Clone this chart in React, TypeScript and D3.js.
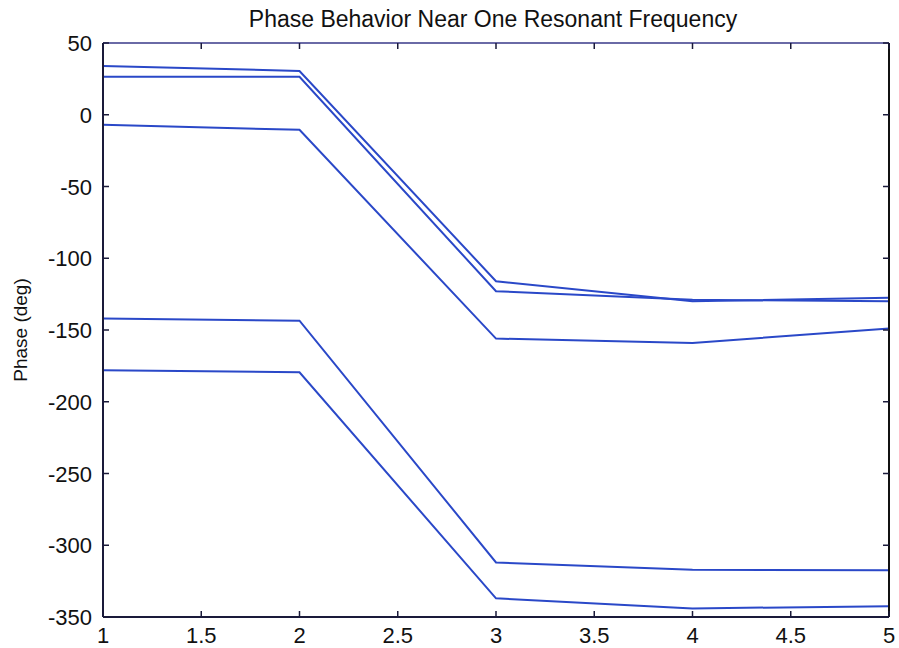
import React from 'react';
import * as d3 from 'd3';

const xs = [1, 2, 3, 4, 5];
const phase1 = [34, 30.5, -116, -130, -127.5];
const phase2 = [26.5, 26.5, -123, -129, -130];
const phase3 = [-7, -10.5, -156, -159, -149];
const phase4 = [-142, -143.5, -312, -317, -317.5];
const phase5 = [-178, -179.5, -337, -344, -342.5];
const seriesList = [phase1, phase2, phase3, phase4, phase5];

const xTicks = [1, 1.5, 2, 2.5, 3, 3.5, 4, 4.5, 5];
const yTicks = [50, 0, -50, -100, -150, -200, -250, -300, -350];

const W = 899;
const H = 648;
const margin = { left: 103, right: 10, top: 43, bottom: 31 };

const App: React.FC = () => {
  const x = d3.scaleLinear().domain([1, 5]).range([margin.left, W - margin.right]);
  const y = d3.scaleLinear().domain([-350, 50]).range([H - margin.bottom, margin.top]);

  const line = d3.line<number>()
    .x((d, i) => x(xs[i]))
    .y(d => y(d));

  const x0 = x(1), x1 = x(5), y0 = y(-350), y1 = y(50);
  const tick = 6;
  const font = '"Liberation Sans", Arial, sans-serif';

  return (
    <svg width={W} height={H} style={{ position: 'absolute', left: 0, top: 0, background: '#fff' }}>
      <text x={493} y={27} textAnchor="middle" fontFamily={font} fontSize={23} fill="#111">
        Phase Behavior Near One Resonant Frequency
      </text>

      {seriesList.map((s, i) => (
        <path key={i} d={line(s) || ''} fill="none" stroke="#2a48c8" strokeWidth={2} />
      ))}

      {/* frame */}
      <line x1={x0} y1={y1} x2={x1} y2={y1} stroke="#6a6aa6" strokeWidth={2} />
      <line x1={x0} y1={y0} x2={x1} y2={y0} stroke="#1a1a3a" strokeWidth={2} />
      <line x1={x0} y1={y0} x2={x0} y2={y1} stroke="#1a1a3a" strokeWidth={2} />
      <line x1={x1} y1={y0} x2={x1} y2={y1} stroke="#111" strokeWidth={2} />

      {xTicks.map(t => (
        <g key={'x' + t}>
          <line x1={x(t)} x2={x(t)} y1={y0} y2={y0 - tick} stroke="#1a1a3a" strokeWidth={1.5} />
          <line x1={x(t)} x2={x(t)} y1={y1} y2={y1 + tick} stroke="#1a1a3a" strokeWidth={1.5} />
          <text x={x(t)} y={643} textAnchor="middle" fontFamily={font} fontSize={22} fill="#111">
            {t}
          </text>
        </g>
      ))}

      {yTicks.map(t => (
        <g key={'y' + t}>
          <line x1={x0} x2={x0 + tick} y1={y(t)} y2={y(t)} stroke="#1a1a3a" strokeWidth={1.5} />
          <line x1={x1} x2={x1 - tick} y1={y(t)} y2={y(t)} stroke="#1a1a3a" strokeWidth={1.5} />
          <text x={92} y={y(t) + 8} textAnchor="end" fontFamily={font} fontSize={22} fill="#111">
            {t}
          </text>
        </g>
      ))}

      <text
        transform={`translate(27, ${(y0 + y1) / 2}) rotate(-90)`}
        textAnchor="middle"
        fontFamily={font}
        fontSize={19}
        fill="#111"
      >
        Phase (deg)
      </text>
    </svg>
  );
};

export default App;
